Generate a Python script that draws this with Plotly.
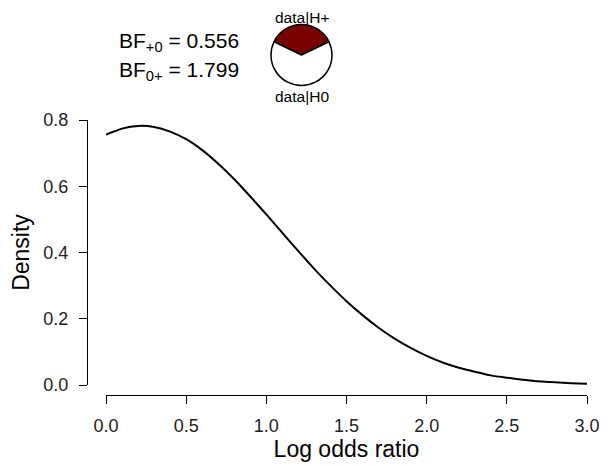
import plotly.graph_objects as go

# Posterior density of log odds ratio
log_odds = [0.0, 0.1, 0.2, 0.3, 0.4, 0.5, 0.6, 0.7, 0.8, 0.9, 1.0,
            1.1, 1.2, 1.3, 1.4, 1.5, 1.6, 1.7, 1.8, 1.9, 2.0,
            2.1, 2.2, 2.3, 2.4, 2.5, 2.6, 2.7, 2.8, 2.9, 3.0]
density = [0.756, 0.774, 0.782, 0.779, 0.765, 0.742, 0.709, 0.668, 0.621, 0.569, 0.515,
           0.459, 0.404, 0.350, 0.300, 0.253, 0.211, 0.173, 0.140, 0.112, 0.088,
           0.068, 0.052, 0.040, 0.029, 0.022, 0.016, 0.011, 0.008, 0.0055, 0.0038]

x_ticks = [0.0, 0.5, 1.0, 1.5, 2.0, 2.5, 3.0]
y_ticks = [0.0, 0.2, 0.4, 0.6, 0.8]

bf_plus0 = 0.556
bf_0plus = 1.799
pie_labels = ["data|H+", "data|H0"]
pie_values = [bf_plus0, 1.0]

# page body has an 8px margin; the figure fills the rest of the 608x465 window
OFF = 8
W, H = 608 - OFF, 465 - OFF
FONT = "Liberation Sans, Arial, Helvetica, sans-serif"

def px_x(p):
    return (p - OFF) / W

def px_y(p):
    return (H - (p - OFF)) / H

fig = go.Figure()

fig.add_trace(go.Scatter(
    x=log_odds, y=density, mode="lines",
    line=dict(color="black", width=2, shape="spline", smoothing=0.6),
    showlegend=False, hoverinfo="skip",
))

# pie showing data|H+ vs data|H0
pie_cx, pie_cy, pie_r = 301.5, 55, 30.5
frac = pie_values[0] / sum(pie_values)
fig.add_trace(go.Pie(
    labels=pie_labels, values=pie_values, sort=False, direction="clockwise",
    rotation=-frac * 360 / 2,
    marker=dict(colors=["#780000", "white"], line=dict(color="black", width=1.5)),
    textinfo="none", showlegend=False, hoverinfo="skip",
    domain=dict(x=[px_x(pie_cx - pie_r), px_x(pie_cx + pie_r)],
                y=[px_y(pie_cy + pie_r), px_y(pie_cy - pie_r)]),
))

fig.update_layout(
    width=W, height=H,
    margin=dict(l=0, r=0, t=0, b=0, autoexpand=False),
    paper_bgcolor="white", plot_bgcolor="white",
    font=dict(family=FONT, color="black"),
    xaxis=dict(
        domain=[px_x(106), px_x(587)], range=[0, 3],
        anchor="free", position=px_y(395),
        tickvals=x_ticks, ticktext=[f"{v:.1f}" for v in x_ticks],
        ticks="outside", ticklen=8, tickwidth=1, tickcolor="black",
        showline=True, linecolor="black", linewidth=1,
        showgrid=False, zeroline=False, ticklabelstandoff=6,
        tickfont=dict(size=18, family=FONT, color="#222"),
        title=dict(text="Log odds ratio", font=dict(size=23, family=FONT), standoff=4),
        automargin=False,
    ),
    yaxis=dict(
        domain=[px_y(385), px_y(120)], range=[0, 0.8],
        anchor="free", position=px_x(87),
        tickvals=y_ticks, ticktext=[f"{v:.1f}" for v in y_ticks],
        ticks="outside", ticklen=8, tickwidth=1, tickcolor="black",
        showline=True, linecolor="black", linewidth=1,
        showgrid=False, zeroline=False, ticklabelstandoff=7,
        tickfont=dict(size=18, family=FONT, color="#222"),
        title=dict(text="Density", font=dict(size=23, family=FONT), standoff=8),
        automargin=False,
    ),
    annotations=[
        dict(text=f"BF<sub>+0</sub> = {bf_plus0:.3f}", x=px_x(117), y=px_y(42),
             xref="paper", yref="paper", xanchor="left", yanchor="middle",
             showarrow=False, font=dict(size=21, family=FONT)),
        dict(text=f"BF<sub>0+</sub> = {bf_0plus:.3f}", x=px_x(117), y=px_y(71),
             xref="paper", yref="paper", xanchor="left", yanchor="middle",
             showarrow=False, font=dict(size=21, family=FONT)),
        dict(text=pie_labels[0], x=px_x(pie_cx), y=1.0,
             xref="paper", yref="paper", xanchor="center", yanchor="top",
             showarrow=False, borderpad=0, font=dict(size=15.5, family=FONT)),
        dict(text=pie_labels[1], x=px_x(pie_cx), y=px_y(97),
             xref="paper", yref="paper", xanchor="center", yanchor="middle",
             showarrow=False, font=dict(size=15.5, family=FONT)),
    ],
)

fig.write_html("out.html")
